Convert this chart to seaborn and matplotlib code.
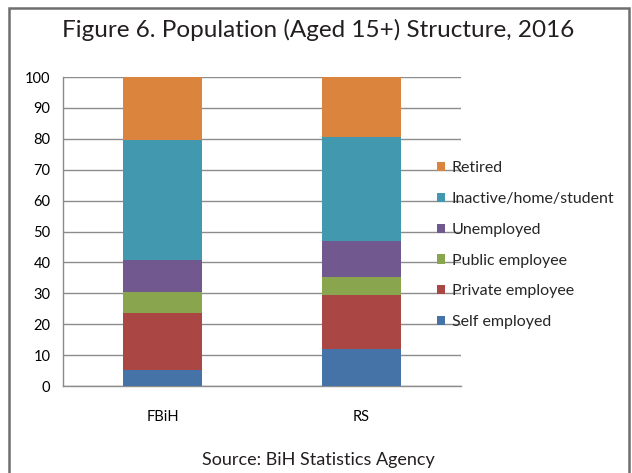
import matplotlib
matplotlib.use("Agg")
import matplotlib.pyplot as plt
from matplotlib.patches import Rectangle, Patch
import numpy as np
import pandas as pd
import seaborn as sns

# Population aged 15+ by activity status (%), 2016
regions = ["FBiH", "RS"]
self_employed = [5.2, 11.9]
private_employee = [18.4, 17.5]
public_employee = [6.7, 5.9]
unemployed = [10.5, 11.7]
inactive = [38.9, 33.7]
retired = [20.3, 19.3]

series_names = ["Self employed", "Private employee", "Public employee",
                "Unemployed", "Inactive/home/student", "Retired"]
series_values = [self_employed, private_employee, public_employee,
                 unemployed, inactive, retired]
colors = ["#4572A7", "#AA4643", "#89A54E", "#71588F", "#4198AF", "#DB843D"]

sns.set_theme(style="white")
plt.rcParams["font.family"] = ["Lato", "DejaVu Sans"]

fig = plt.figure(figsize=(6.32, 4.73), dpi=100)
ax = fig.add_axes([63 / 632, 1 - 386 / 473, 398 / 632, 309 / 473])

# stacked bars: draw cumulative totals from the top segment down
tops = np.cumsum(np.array(series_values), axis=0)
for name, top, color in reversed(list(zip(series_names, tops, colors))):
    df = pd.DataFrame({"region": regions, "value": top})
    sns.barplot(data=df, x="region", y="value", color=color, width=0.4,
                saturation=1, linewidth=0, edgecolor="none", ax=ax, zorder=3)

ax.set_ylim(0, 100)
ax.set_xlim(-0.5, 1.5)
ax.set_yticks(np.arange(0, 101, 10))
ax.yaxis.grid(True, color="#8c8c8c", linewidth=1.0, zorder=0)
ax.set_axisbelow(True)
ax.set_xlabel("")
ax.set_ylabel("")

for side in ["top", "right"]:
    ax.spines[side].set_visible(False)
for side in ["left", "bottom"]:
    ax.spines[side].set_color("#8c8c8c")
    ax.spines[side].set_linewidth(1.0)

ax.tick_params(axis="y", which="major", direction="out", length=5,
               color="#8c8c8c", width=1, labelsize=10.5, labelcolor="black", pad=4)
ax.tick_params(axis="x", which="major", length=0, labelsize=10.5,
               labelcolor="black", pad=17)
ax.set_xticks([-0.5, 0.5, 1.5], minor=True)
ax.tick_params(axis="x", which="minor", direction="out", length=5,
               color="#8c8c8c", width=1)

handles = [Patch(facecolor=c, edgecolor="none", label=n)
           for n, c in zip(series_names, colors)][::-1]
fig.legend(handles=handles, loc="upper left",
           bbox_to_anchor=(431 / 632, 1 - 155 / 473), frameon=False,
           fontsize=11.5, handlelength=0.5, handleheight=0.5,
           handletextpad=0.4, labelspacing=1.05, borderaxespad=0)

fig.text(318 / 632, 1 - 30 / 473, "Figure 6. Population (Aged 15+) Structure, 2016",
         ha="center", va="center", fontsize=17.5, color="#231f20")
fig.text(318 / 632, 1 - 460 / 473, "Source: BiH Statistics Agency",
         ha="center", va="center", fontsize=13, color="#231f20")

# frame around the whole figure
fig.patches.append(Rectangle((8.5 / 632, -0.05), 620 / 632, 1 - 8.5 / 473 + 0.05,
                             transform=fig.transFigure, fill=False,
                             edgecolor="#6f6f6f", linewidth=1.8))

fig.savefig("out.png", dpi=100)
